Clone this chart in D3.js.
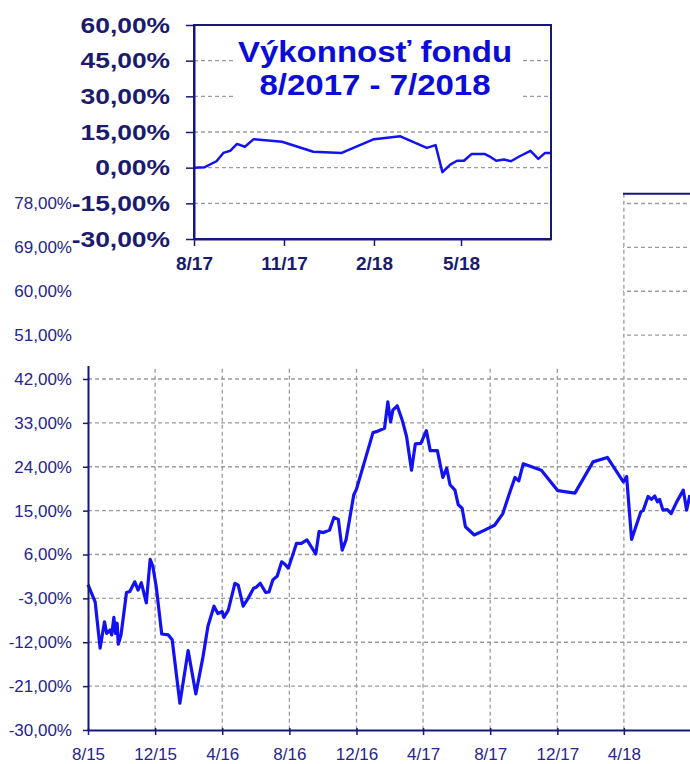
<!DOCTYPE html>
<html>
<head>
<meta charset="utf-8">
<title>Výkonnosť fondu</title>
<script src="https://cdn.jsdelivr.net/npm/d3@7"></script>
<style>
  body { margin: 0; background: #fff; }
  svg { display: block; font-family: 'Liberation Sans', Arial, sans-serif; }
</style>
</head>
<body>
<svg width="690" height="764"></svg>
<script>

// hlavný graf 8/2015 - 7/2018 (v %)
const mainDates = ['2015-08-01', '2015-08-14', '2015-08-23', '2015-08-31', '2015-09-04', '2015-09-10',
  '2015-09-13', '2015-09-17', '2015-09-20', '2015-09-23', '2015-09-25', '2015-09-30', '2015-10-10',
  '2015-10-16', '2015-10-25', '2015-10-31', '2015-11-06', '2015-11-15', '2015-11-22', '2015-11-27',
  '2015-12-03', '2015-12-13', '2015-12-25', '2016-01-01', '2016-01-15', '2016-01-30', '2016-02-13',
  '2016-02-26', '2016-03-06', '2016-03-17', '2016-03-24', '2016-04-01', '2016-04-04', '2016-04-12',
  '2016-04-24', '2016-04-30', '2016-05-09', '2016-05-18', '2016-05-28', '2016-06-02', '2016-06-09',
  '2016-06-19', '2016-06-25', '2016-07-02', '2016-07-10', '2016-07-18', '2016-07-24', '2016-07-30',
  '2016-08-08', '2016-08-14', '2016-08-23', '2016-09-02', '2016-09-18', '2016-09-24', '2016-10-02',
  '2016-10-13', '2016-10-21', '2016-10-29', '2016-11-05', '2016-11-12', '2016-11-26', '2016-12-01',
  '2016-12-31', '2017-01-06', '2017-01-21', '2017-01-27', '2017-02-01', '2017-02-05', '2017-02-13',
  '2017-02-22', '2017-03-02', '2017-03-11', '2017-03-18', '2017-03-28', '2017-04-07', '2017-04-14',
  '2017-04-27', '2017-05-07', '2017-05-14', '2017-05-20', '2017-05-29', '2017-06-04', '2017-06-11',
  '2017-06-17', '2017-07-03', '2017-07-22', '2017-08-09', '2017-08-24', '2017-09-04', '2017-09-15',
  '2017-09-22', '2017-09-30', '2017-11-02', '2017-12-02', '2018-01-02', '2018-02-04', '2018-03-02',
  '2018-03-31', '2018-04-06', '2018-04-15', '2018-05-02', '2018-05-06', '2018-05-15', '2018-05-21',
  '2018-05-27', '2018-06-01', '2018-06-05', '2018-06-11', '2018-06-19', '2018-06-26', '2018-07-06',
  '2018-07-18', '2018-07-24', '2018-07-30']
const mainValues = [-0.2, -3.7, -13.2, -7.8, -10.2, -9.5,
  -10.5, -6.9, -10.2, -8.1, -12.4, -10.5, -1.8,
  -1.6, 0.4, -1.3, 0.2, -3.9, 5.0, 3.5,
  -0.6, -10.3, -10.5, -11.5, -24.5, -13.7, -22.6,
  -15.0, -8.7, -4.6, -6.1, -5.7, -6.9, -5.4,
  0.1, -0.3, -4.6, -3.0, -0.9, -0.7, 0.1,
  -1.8, -1.7, 0.8, 1.6, 4.5, 4.0, 3.2,
  6.2, 8.3, 8.3, 9.0, 6.1, 10.7, 10.5,
  11.0, 13.6, 13.2, 6.9, 9.0, 18.2, 19.4,
  31.0, 31.2, 31.9, 37.3, 33.2, 35.6, 36.5,
  33.6, 30.2, 23.3, 28.7, 28.8, 31.4, 27.3,
  27.3, 21.8, 23.7, 20.3, 19.2, 16.2, 15.5,
  11.7, 10.0, 11.0, 12.0, 14.4, 18.2, 21.8,
  21.1, 24.6, 23.3, 19.1, 18.6, 25.0, 25.9,
  20.9, 22.0, 9.1, 14.8, 15.0, 17.9, 17.3,
  18.0, 16.8, 17.3, 15.1, 15.2, 14.4, 16.8,
  19.2, 15.1, 18.2]
const mainYTicks = [-30, -21, -12, -3, 6, 15, 24, 33, 42, 51, 60, 69, 78]
const mainXTicks = ['2015-08-01', '2015-12-01', '2016-04-01', '2016-08-01', '2016-12-01',
  '2017-04-01', '2017-08-01', '2017-12-01', '2018-04-01']

// výrez 8/2017 - 7/2018 (v %)
const insetDates = ['2017-08-01', '2017-08-12', '2017-08-24', '2017-08-31', '2017-09-07', '2017-09-14',
  '2017-09-22', '2017-10-01', '2017-10-30', '2017-12-01', '2017-12-30', '2018-02-01', '2018-02-28',
  '2018-03-27', '2018-04-05', '2018-04-12', '2018-04-20', '2018-04-27', '2018-05-04', '2018-05-12',
  '2018-05-25', '2018-05-30', '2018-06-06', '2018-06-14', '2018-06-21', '2018-06-30', '2018-07-11',
  '2018-07-19', '2018-07-26', '2018-07-31']
const insetValues = [0, 0.2, 2.7, 6.2, 7.1, 10.0,
  8.8, 12.0, 10.9, 6.7, 6.2, 12.0, 13.2,
  8.3, 9.5, -1.9, 1.3, 2.9, 2.9, 5.8,
  5.8, 4.8, 2.9, 3.4, 2.7, 4.8, 7.1,
  3.7, 6.2, 6.2]
const insetYTicks = [-30, -15, 0, 15, 30, 45, 60]
const insetXTicks = ['2017-08-01', '2017-11-01', '2018-02-01', '2018-05-01']
const insetTitle = ['Výkonnosť fondu', '8/2017 - 7/2018']

const parse = d3.timeParse('%Y-%m-%d')
const locale = d3.formatLocale({ decimal: ',', thousands: ' ', grouping: [3], currency: ['', ''], minus: '-' })
const fmt2 = locale.format('.2f')
const pct = d => fmt2(d) + '%'
const monthFmt = d3.timeFormat('%-m/%y')

const navy = '#17177c'
const gridColor = '#9c9c9c'
const lineColor = '#1212f2'

const svg = d3.select('svg')

//---------- hlavný graf ----------
const x = d3.scaleTime().domain([parse('2015-08-01'), parse('2018-08-01')]).range([88, 691])
const y = d3.scaleLinear().domain([-30, 80]).range([730, 193.75])

const main = svg.append('g')

main.append('g').selectAll('line')
  .data(mainYTicks.slice(1))
  .join('line')
  .attr('x1', x.range()[0]).attr('x2', x.range()[1])
  .attr('y1', d => y(d)).attr('y2', d => y(d))
  .attr('stroke', gridColor).attr('stroke-width', 1.3).attr('stroke-dasharray', '4,3')

main.append('g').selectAll('line')
  .data(mainXTicks.slice(1).map(parse))
  .join('line')
  .attr('x1', d => x(d)).attr('x2', d => x(d))
  .attr('y1', y.range()[1]).attr('y2', y.range()[0])
  .attr('stroke', gridColor).attr('stroke-width', 1.3).attr('stroke-dasharray', '4,3')

// horný okraj
main.append('line')
  .attr('x1', x.range()[0]).attr('x2', x.range()[1])
  .attr('y1', y.range()[1]).attr('y2', y.range()[1])
  .attr('stroke', navy).attr('stroke-width', 2)

const mainData = mainDates.map((d, i) => ({ date: parse(d), value: mainValues[i] }))
main.append('path')
  .datum(mainData)
  .attr('fill', 'none')
  .attr('stroke', lineColor)
  .attr('stroke-width', 3.2)
  .attr('stroke-linejoin', 'round')
  .attr('d', d3.line().x(d => x(d.date)).y(d => y(d.value)))

const yAxis = d3.axisLeft(y).tickValues(mainYTicks).tickFormat(pct).tickSizeInner(5).tickSizeOuter(0).tickPadding(11)
const xAxis = d3.axisBottom(x).tickValues(mainXTicks.map(parse)).tickFormat(monthFmt).tickSizeInner(5).tickSizeOuter(0).tickPadding(13)

const gy = main.append('g').attr('transform', `translate(${x.range()[0]},0)`).call(yAxis)
const gx = main.append('g').attr('transform', `translate(0,${y.range()[0]})`).call(xAxis)
gx.selectAll('.tick line').attr('y1', -2)

for (const g of [gy, gx]) {
  g.select('.domain').attr('stroke', navy).attr('stroke-width', 2)
  g.selectAll('.tick line').attr('stroke', navy).attr('stroke-width', 1.5)
  g.selectAll('.tick text').attr('fill', '#25258c').attr('font-size', '17px')
    .attr('font-family', "'Liberation Sans', Arial, sans-serif")
}

//---------- biele pozadie výrezu ----------
svg.append('rect').attr('x', 73).attr('y', 0).attr('width', 550).attr('height', 366).attr('fill', '#fff')

//---------- výrez ----------
const xi = d3.scaleTime().domain([parse('2017-08-01'), parse('2018-08-01')]).range([194, 551])
const yi = d3.scaleLinear().domain([-30, 60]).range([239, 25])

const inset = svg.append('g')

inset.append('g').selectAll('line')
  .data(insetYTicks.slice(1, -1))
  .join('line')
  .attr('x1', xi.range()[0]).attr('x2', xi.range()[1])
  .attr('y1', d => yi(d)).attr('y2', d => yi(d))
  .attr('stroke', gridColor).attr('stroke-width', 1.3).attr('stroke-dasharray', '4,3')

inset.append('rect')
  .attr('x', xi.range()[0]).attr('y', yi.range()[1])
  .attr('width', xi.range()[1] - xi.range()[0]).attr('height', yi.range()[0] - yi.range()[1])
  .attr('fill', 'none').attr('stroke', navy).attr('stroke-width', 2)

// nadpis
const tx = 375, tsx = 1.1
inset.append('rect').attr('x', 233).attr('y', 30).attr('width', 289).attr('height', 74).attr('fill', '#fff')
inset.append('text')
  .attr('transform', `translate(${tx},0) scale(${tsx},1)`)
  .attr('text-anchor', 'middle')
  .attr('font-size', '30px').attr('font-weight', 'bold').attr('fill', '#0c0cd8')
  .selectAll('tspan')
  .data(insetTitle)
  .join('tspan')
  .attr('x', 0)
  .attr('y', (d, i) => 62 + i * 33)
  .text(d => d)

const insetData = insetDates.map((d, i) => ({ date: parse(d), value: insetValues[i] }))
inset.append('path')
  .datum(insetData)
  .attr('fill', 'none')
  .attr('stroke', lineColor)
  .attr('stroke-width', 2.5)
  .attr('stroke-linejoin', 'round')
  .attr('d', d3.line().x(d => xi(d.date)).y(d => yi(d.value)))

const yiAxis = d3.axisLeft(yi).tickValues(insetYTicks).tickFormat(pct).tickSizeInner(8).tickSizeOuter(0).tickPadding(16)
const xiAxis = d3.axisBottom(xi).tickValues(insetXTicks.map(parse)).tickFormat(monthFmt).tickSizeInner(7).tickSizeOuter(0).tickPadding(11)

const giy = inset.append('g').attr('transform', `translate(${xi.range()[0]},0)`).call(yiAxis)
const gix = inset.append('g').attr('transform', `translate(0,${yi.range()[0]})`).call(xiAxis)

for (const g of [giy, gix]) {
  g.select('.domain').attr('stroke', navy).attr('stroke-width', 2)
  g.selectAll('.tick line').attr('stroke', navy).attr('stroke-width', 1.5)
  g.selectAll('.tick text').attr('fill', '#1b1b6e').attr('font-weight', 'bold')
    .attr('font-family', "'Liberation Sans', Arial, sans-serif")
}
const sx = 1.2
giy.selectAll('.tick text').attr('font-size', '22px')
  .attr('x', -24 / sx).attr('transform', `scale(${sx},1)`)
gix.selectAll('.tick text').attr('font-size', '19px')

</script>
</body>
</html>
